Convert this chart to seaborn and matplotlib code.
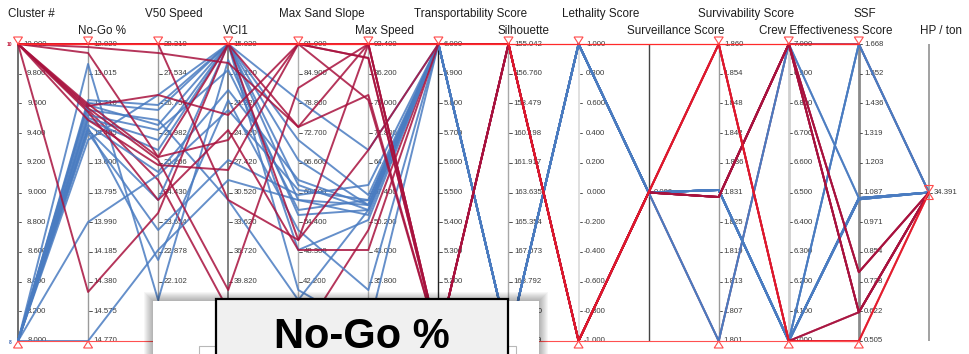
import matplotlib
matplotlib.use("Agg")
import matplotlib.pyplot as plt
import numpy as np
import pandas as pd
import seaborn as sns
from matplotlib.patches import Rectangle, Polygon

# ---- axes of the parallel-coordinates view ----
axis_names = ["Cluster #", "No-Go %", "V50 Speed", "VCI1", "Max Sand Slope", "Max Speed",
              "Transportability Score", "Silhouette", "Lethality Score", "Surveillance Score",
              "Survivability Score", "Crew Effectiveness Score", "SSF", "HP / ton"]
axis_top = [10.0, 12.820, 28.310, 15.020, 91.000, 93.400, 6.000, 155.0416, 1.000, 0.000,
            1.860, 7.000, 1.6683, 34.391]
axis_bottom = [8.0, 14.770, 20.550, 46.020, 30.000, 21.400, 5.000, 172.2292, -1.000, 0.000,
               1.801, 6.000, 0.5054, 34.391]

# ---- records (one entry per vehicle configuration) ----
cluster = [8, 8, 8, 8, 8, 8, 8, 8, 8, 8, 8, 8, 8, 8, 8,
           10, 10, 10, 10, 10, 10, 10, 10, 10, 10, 10, 10]
no_go = [14.770, 13.989, 12.951, 13.188, 13.207, 13.286, 13.319, 13.352, 13.385, 13.404, 13.253, 13.450,
         13.306, 13.371, 13.221,
         12.840, 12.879, 13.227, 13.214, 13.240, 14.448, 12.820, 13.253, 13.319, 13.266, 12.820, 12.820]
v50_speed = [22.928, 24.887, 21.621, 26.716, 26.586, 26.063, 25.541, 24.966, 24.234, 23.450, 26.324, 26.978,
             25.802, 22.666, 26.194,
             28.075, 25.357, 26.978, 25.357, 25.279, 23.895, 28.310, 24.757, 25.149, 24.234, 28.310, 28.310]
vci1 = [29.215, 21.909, 16.690, 15.020, 15.020, 17.734, 15.020, 19.821, 15.020, 27.128, 31.303, 15.020,
        15.020, 20.866, 15.020,
        17.003, 15.020, 22.430, 25.040, 40.696, 15.020, 31.303, 42.785, 28.172, 23.997, 15.020, 15.020]
max_sand_slope = [58.958, 61.014, 55.879, 71.283, 58.958, 56.907, 48.690, 63.068, 40.474, 59.987, 38.418, 79.495,
                  67.170, 52.796, 62.043,
                  73.952, 50.744, 91.000, 91.000, 81.963, 73.952, 50.744, 30.206, 91.000, 48.690, 91.000, 91.000]
max_speed = [54.370, 55.578, 53.160, 56.795, 51.945, 55.578, 50.733, 54.370, 24.066, 59.220, 53.160, 67.703,
             54.370, 33.762, 53.160,
             93.400, 67.703, 90.006, 90.006, 93.400, 81.038, 93.400, 48.307, 79.821, 43.461, 93.400, 93.400]
transportability = [6.0] * 15 + [5.0, 6.0, 5.0, 5.0, 5.0, 5.0, 5.0, 6.0, 5.0, 6.0, 6.0, 6.0]
silhouette = [172.229] * 15 + [155.042, 155.042, 155.042, 155.042, 155.042, 155.042, 155.042, 172.229,
                               155.042, 155.042, 155.042, 155.042]
lethality = [1.0] * 15 + [-1.0, -1.0, -1.0, -1.0, -1.0, -1.0, -1.0, 1.0, -1.0, -1.0, -1.0, -1.0]
surveillance = [0.0] * 27
survivability = [1.831, 1.831, 1.801, 1.831, 1.831, 1.831, 1.831, 1.831, 1.801, 1.831, 1.831, 1.831,
                 1.831, 1.831, 1.831,
                 1.860, 1.8296, 1.8296, 1.8296, 1.8296, 1.8296, 1.860, 1.801, 1.8296, 1.8296, 1.860, 1.860]
crew_effectiveness = [6.0, 6.0, 7.0, 6.0, 6.0, 6.0, 6.0, 6.0, 7.0, 6.0, 6.0, 6.0, 6.0, 6.0, 6.0,
                      6.0, 7.0, 7.0, 7.0, 7.0, 7.0, 6.0, 7.0, 7.0, 7.0, 6.0, 6.0]
ssf = [1.668, 1.065, 1.065, 1.668, 1.060, 1.065, 1.060, 1.065, 1.065, 1.060, 1.065, 1.668,
       1.060, 1.065, 1.060,
       0.618, 0.618, 0.618, 0.775, 0.775, 0.775, 0.618, 1.668, 0.618, 0.618, 0.505, 0.505]
hp_per_ton = [34.391] * 27
line_group = ["c8"] * 15 + ["c10"] * 7 + ["c10u"] + ["c10"] * 2 + ["c10h"] * 2

columns = [cluster, no_go, v50_speed, vci1, max_sand_slope, max_speed, transportability,
           silhouette, lethality, surveillance, survivability, crew_effectiveness, ssf, hp_per_ton]

# ---- styling ----
sns.set_style("white")
plt.rcParams["font.family"] = ["Liberation Sans", "DejaVu Sans"]

W, H = 970, 354
fig = plt.figure(figsize=(W / 100, H / 100), dpi=100)
ax = fig.add_axes([0, 0, 1, 1])

X0, DX = 18.0, 70.07
Y_TOP, Y_BOT = 44.0, 341.0
axis_x = [X0 + DX * i for i in range(len(axis_names))]
axis_color = ["#555555", "#9a9a9a", "#9a9a9a", "#777777", "#b0b0b0", "#b0b0b0", "#222222",
              "#a8a8a8", "#dddddd", "#444444", "#9a9a9a", "#cfcfcf", "#8a8a8a", "#9a9a9a"]
axis_lw = [1.2, 1.0, 1.0, 1.3, 1.0, 1.0, 1.0, 1.0, 1.3, 1.0, 1.0, 2.0, 2.0, 1.3]


def to_y(i, v):
    top, bot = axis_top[i], axis_bottom[i]
    if top == bot:
        return (Y_TOP + Y_BOT) / 2
    return Y_TOP + (v - top) / (bot - top) * (Y_BOT - Y_TOP)


rows = []
for r in range(len(cluster)):
    for i, col in enumerate(columns):
        rows.append({"rec": r, "grp": line_group[r], "x": axis_x[i], "y": to_y(i, col[r])})
df = pd.DataFrame(rows)

# axis lines
for i, x in enumerate(axis_x):
    ax.plot([x, x], [Y_TOP, Y_BOT], color=axis_color[i], lw=axis_lw[i], zorder=1,
            solid_capstyle="butt")

palette = {"c10u": "#a8123e", "c8": "#4a7cc1", "c10": "#a8123e", "c10h": "#e3192b"}
sns.lineplot(data=df, x="x", y="y", hue="grp", hue_order=["c10u", "c8", "c10", "c10h"],
             palette=palette, units="rec", estimator=None, sort=False, lw=1.4, alpha=0.85,
             legend=False, ax=ax, zorder=3)

# tick marks and labels
renderer = fig.canvas.get_renderer()
for i, x in enumerate(axis_x):
    top, bot = axis_top[i], axis_bottom[i]
    if top == bot:
        vals = [top]
    else:
        vals = [top + k * (bot - top) / 10 for k in range(11)]
    labels = [f"{v:.3f}" for v in vals]
    texts = []
    for v, lab in zip(vals, labels):
        y = to_y(i, v)
        ax.plot([x + 1, x + 3.5], [y, y], color="#333333", lw=0.6, zorder=2)
        t = ax.text(x + 5, y, lab, fontsize=5.6, color="#3a3a3a", ha="right", va="center", zorder=2)
        texts.append(t)
    widths = [t.get_window_extent(renderer).width for t in texts]
    wmax = max(widths)
    for t in texts:
        t.set_x(x + 5 + wmax)

# axis titles in two staggered rows
for i, (x, name) in enumerate(zip(axis_x, axis_names)):
    ty = 14 if i % 2 == 0 else 31
    t = ax.text(x, ty, name, fontsize=8.4, color="#1e1e1e", ha="center", va="center", zorder=5)
    w = t.get_window_extent(renderer).width
    t.set_x(x + 0.28 * w)

# brush range markers
bx0, bx1 = axis_x[0], axis_x[12]
ax.plot([bx0, bx1], [Y_TOP, Y_TOP], color="#ff2a2a", lw=0.9, zorder=6)
ax.plot([bx0, bx1], [Y_BOT, Y_BOT], color="#ff5050", lw=0.8, zorder=6)
for i, x in enumerate(axis_x):
    if i == 9:
        continue
    if i == 13:
        ym = (Y_TOP + Y_BOT) / 2
        ax.add_patch(Polygon([[x - 4.5, ym - 7], [x + 4.5, ym - 7], [x, ym]], closed=True,
                             fc="none", ec="#ff4a4a", lw=0.8, zorder=7))
        ax.add_patch(Polygon([[x - 4.5, ym + 7], [x + 4.5, ym + 7], [x, ym]], closed=True,
                             fc="none", ec="#ff4a4a", lw=0.8, zorder=7))
        continue
    ax.add_patch(Polygon([[x - 4.5, Y_TOP - 7], [x + 4.5, Y_TOP - 7], [x, Y_TOP]], closed=True,
                         fc="white", ec="#ff4a4a", lw=0.8, zorder=7))
    ax.add_patch(Polygon([[x - 4.5, Y_BOT + 7], [x + 4.5, Y_BOT + 7], [x, Y_BOT]], closed=True,
                         fc="white", ec="#ff4a4a", lw=0.8, zorder=7))

ax.text(axis_x[0] - 6, Y_TOP, "10", fontsize=3.5, color="#c0183a", ha="right", va="center",
        fontweight="bold", zorder=7)
ax.text(axis_x[0] - 6, Y_BOT + 1, "8", fontsize=3.5, color="#3060b0", ha="right", va="center",
        fontweight="bold", zorder=7)

# hover tooltip over the No-Go % axis
for k in range(1, 10):
    ax.add_patch(Rectangle((153 - k, 301 - k), 386 + 2 * k, 80, fc="black", ec="none",
                           alpha=0.035, zorder=8))
ax.add_patch(Rectangle((153, 301), 386, 80, fc="white", ec="none", zorder=9))
ax.add_patch(Rectangle((199, 346), 17, 30, fc="white", ec="#b8b8b8", lw=0.8, zorder=9))
ax.add_patch(Rectangle((508, 346), 8, 30, fc="white", ec="#b8b8b8", lw=0.8, zorder=9))
ax.add_patch(Rectangle((216, 299), 292, 80, fc="#f0f0f0", ec="black", lw=1.6, zorder=10))
ax.text(362, 348, "No-Go %", fontsize=30, fontweight="bold", color="black", ha="center",
        va="baseline", zorder=11)

ax.set_xlim(0, W)
ax.set_ylim(H, 0)
ax.axis("off")
fig.savefig("out.png", dpi=100)
